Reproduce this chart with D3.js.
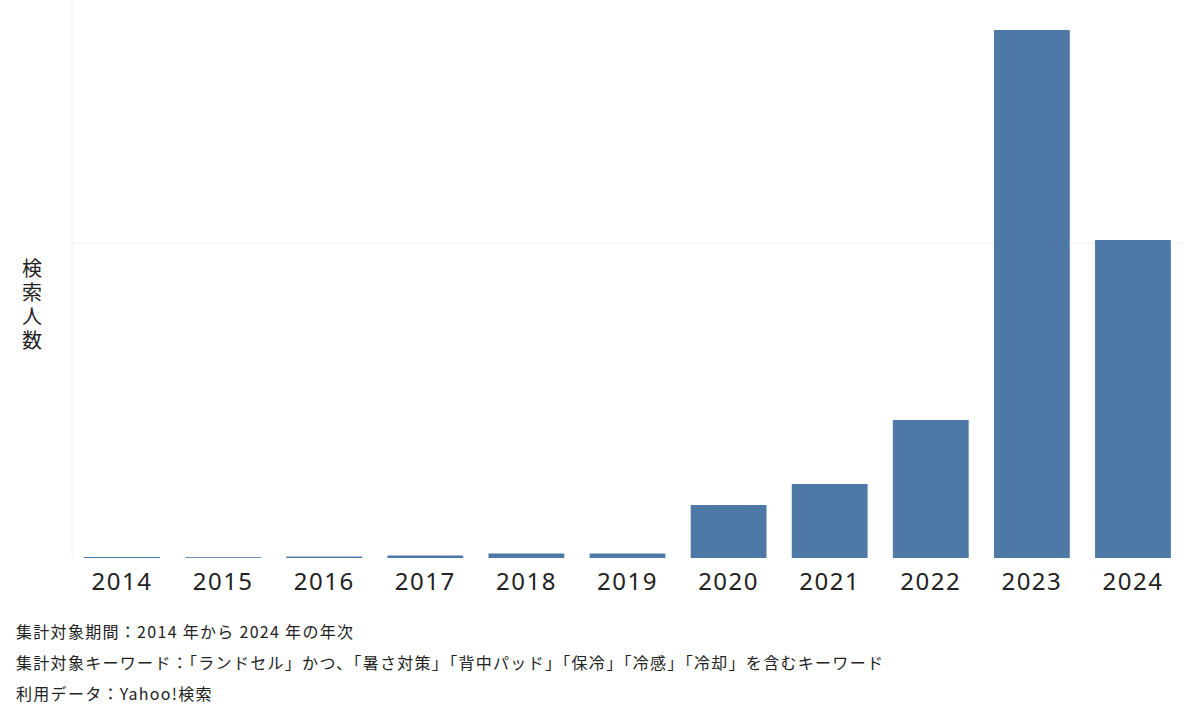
<!DOCTYPE html>
<html><head><meta charset="utf-8">
<script src="https://cdn.jsdelivr.net/npm/d3@7"></script>
<style>body{margin:0;background:#fff;font-family:"Noto Sans CJK JP","Noto Sans",sans-serif;}</style>
</head><body>
<svg id="c" width="1201" height="720"></svg>
<script>
/* values (arbitrary units, no y tick labels shown) */
var years=['2014','2015','2016','2017','2018','2019','2020','2021','2022','2023','2024'];
var values=[1,0.8,1.5,2.5,4.5,4.5,53,74,138,528,318];
var gridTicks=[315];
var notes=['集計対象期間：2014 年から 2024 年の年次',
  '集計対象キーワード：「ランドセル」かつ、「暑さ対策」「背中パッド」「保冷」「冷感」「冷却」を含むキーワード',
  '利用データ：Yahoo!検索'];

var ML=72, MR=18, MT=0, H=558, W=1201-ML-MR;
var svg=d3.select('#c');
var g=svg.append('g').attr('transform','translate('+ML+','+MT+')');
var x=d3.scaleBand().domain(years).range([0,W]).paddingInner(0.25).paddingOuter(0.12);
var y=d3.scaleLinear().domain([0,558]).range([H,0]);

/* grid */
g.selectAll('.gl').data(gridTicks).enter().append('line')
  .attr('x1',0).attr('x2',W).attr('y1',function(d){return y(d)}).attr('y2',function(d){return y(d)})
  .attr('stroke','#f0f0f0');
g.append('line').attr('x1',0).attr('x2',0).attr('y1',0).attr('y2',H).attr('stroke','#f0f0f0');

/* bars */
g.selectAll('.bar').data(values).enter().append('rect')
  .attr('x',function(d,i){return x(years[i])}).attr('width',x.bandwidth())
  .attr('y',function(d){return y(d)}).attr('height',function(d){return H-y(d)})
  .attr('fill','#4e79a7');

/* x axis */
var ax=g.append('g').attr('transform','translate(0,'+H+')')
  .call(d3.axisBottom(x).tickSize(0).tickPadding(15));
ax.select('.domain').remove();
ax.selectAll('text').attr('font-size','24px').attr('fill','#222').attr('letter-spacing','1.5px')
  .attr('font-family','"Noto Sans",sans-serif');

/* y label stacked vertically */
var yl=svg.append('text').attr('x',32).attr('y',276).attr('text-anchor','middle')
  .attr('font-size','20px').attr('fill','#222');
'検索人数'.split('').forEach(function(c,i){
  yl.append('tspan').attr('x',32).attr('dy',i?24:0).text(c);
});

/* notes */
svg.selectAll('.note').data(notes).enter().append('text')
  .attr('x',16).attr('y',function(d,i){return 638+i*31})
  .attr('font-size','16px').attr('letter-spacing','1.3px')
  .attr('fill','#222').text(function(d){return d});
</script>
</body></html>
